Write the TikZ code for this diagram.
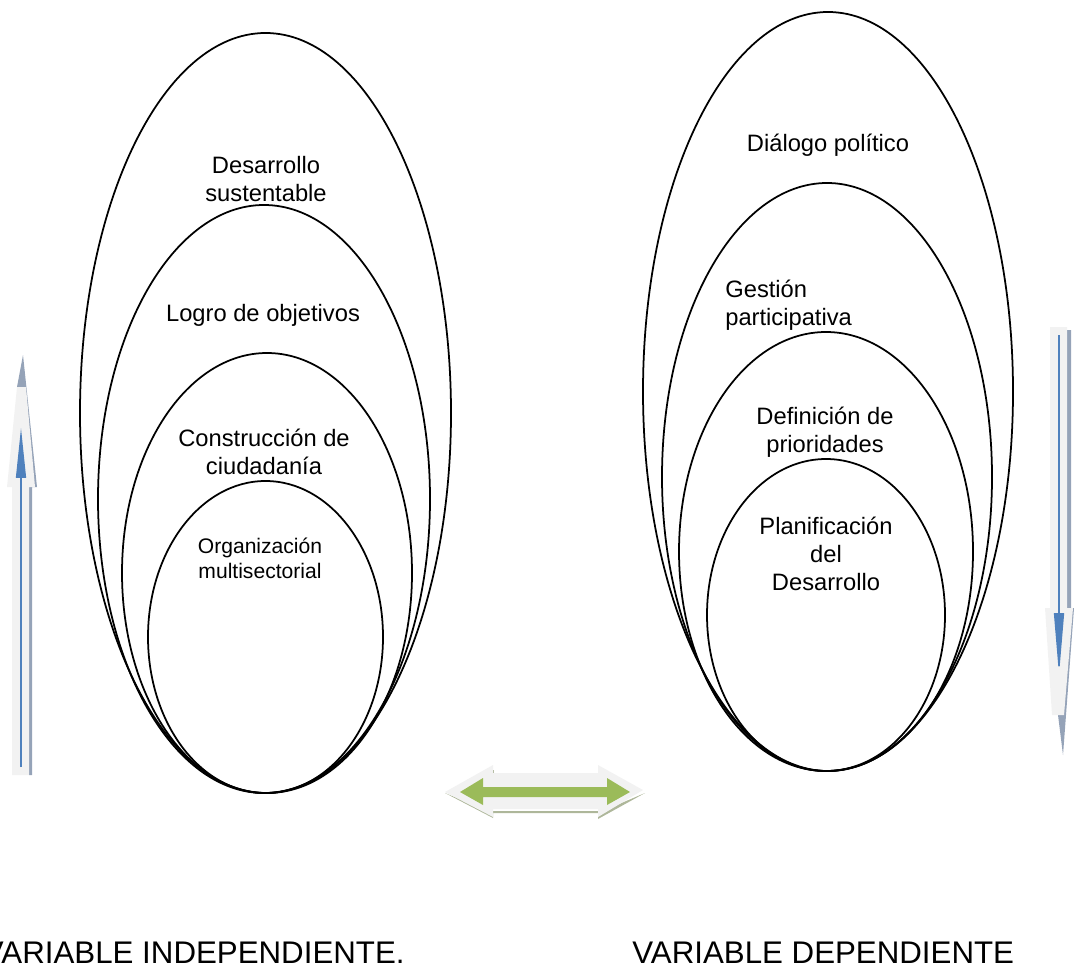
\documentclass[tikz,border=0pt]{standalone}
\usepackage{fontspec}
\setmainfont{Liberation Sans}
\usepackage{tikz}
\usetikzlibrary{arrows.meta, positioning, shapes.geometric}

\definecolor{office blue}{HTML}{4F81BD}
\definecolor{office green}{HTML}{9BBB59}
\definecolor{pale}{HTML}{F2F2F2}
\definecolor{blue shadow}{HTML}{95A3B8}
\definecolor{green shadow}{HTML}{AEB79A}

\begin{document}
\begin{tikzpicture}[x=0.02cm, y=-0.02cm,
    ring/.style 2 args={draw, ellipse, line width=1pt, inner sep=0pt,
      minimum width=#1*0.02cm, minimum height=#2*0.02cm},
    lbl/.style={font=\fontsize{13.5}{15.8}\selectfont, align=center, inner sep=0pt},
    small lbl/.style={font=\fontsize{12}{14.2}\selectfont, align=center, inner sep=0pt},
    title/.style={font=\fontsize{17.8}{21}\selectfont, inner sep=0pt},
    flow/.style={draw=office blue, line width=0.8pt}]
  \useasboundingbox (0,0) rectangle (1074,969);

  % independent variable
  \node [ring={371}{760}] (des) at (265.5,413) {};
  \node [ring={332}{588}] (obj) at (264,499) {};
  \node [ring={290}{440}] (ciu) at (267,573) {};
  \node [ring={235}{312}] (org) at (265.5,637) {};
  \node [lbl] (des text) at (266,179) {Desarrollo\\sustentable};
  \node [lbl] (obj text) at (263,315) {Logro de objetivos};
  \node [lbl] (ciu text) at (264,452) {Construcción de\\ciudadanía};
  \node [small lbl] (org text) at (260,558) {Organización\\multisectorial};

  % dependent variable
  \node [ring={370}{759}] (dia) at (828,391.5) {};
  \node [ring={330}{588}] (ges) at (827,477) {};
  \node [ring={294}{439}] (pri) at (826,551.5) {};
  \node [ring={238}{312}] (pla) at (826,615) {};
  \node [lbl] (dia text) at (828,145.5) {Diálogo político};
  \node [lbl, align=left, anchor=west] (ges text) at (725,305.5) {Gestión\\participativa};
  \node [lbl] (pri text) at (825,432) {Definición de\\prioridades};
  \node [lbl] (pla text) at (826,554) {Planificación\\del\\Desarrollo};

  % upward arrow
  \fill [blue shadow] (29,775) -- (32,775) -- (32,487) -- (37,487) -- (23,355) -- (17,387) -- cycle;
  \fill [pale] (12,775) -- (29,775) -- (29,487) -- (35,487) -- (26,387) -- (17,387) -- (7,487) -- (12,487) -- cycle;
  \coordinate (up from) at (21,767);
  \coordinate (up to) at (21,428);
  \draw [flow, -{Triangle[length=1cm, width=0.2cm]}] (up from) -- (up to);

  % downward arrow
  \fill [blue shadow] (1067,330) -- (1071,330) -- (1071,608) -- (1074,608) -- (1063,755) -- (1058,715) -- cycle;
  \fill [pale] (1050,327) -- (1067,327) -- (1067,608) -- (1073,608) -- (1064,715) -- (1052,715) -- (1045,608) -- (1050,608) -- cycle;
  \coordinate (down from) at (1059,335);
  \coordinate (down to) at (1059,675);
  \draw [flow, -{Triangle[length=1.24cm, width=0.2cm]}] (down from) -- (down to);

  % double arrow between both variables
  \fill [green shadow] (445,793) -- (493,818) -- (493,811) -- (598,811) -- (598,819) -- (645,793) -- (598,813) -- (493,813) -- cycle;
  \fill [green shadow] (491,770) rectangle (494,778);
  \fill [pale] (445,792) -- (493,765) -- (493,773) -- (598,773) -- (598,765) -- (643,790) -- (598,817) -- (598,809) -- (493,809) -- (493,817) -- cycle;
  \fill [office green] (460,792) -- (483,778) -- (483,787) -- (607,787) -- (607,778) -- (630,792) -- (607,805) -- (607,797) -- (483,797) -- (483,805) -- cycle;

  \node [title, anchor=base east] (indep) at (405,963) {VARIABLE INDEPENDIENTE.};
  \node [title, anchor=base west] (dep) at (632,963) {VARIABLE DEPENDIENTE};
\end{tikzpicture}
\end{document}
